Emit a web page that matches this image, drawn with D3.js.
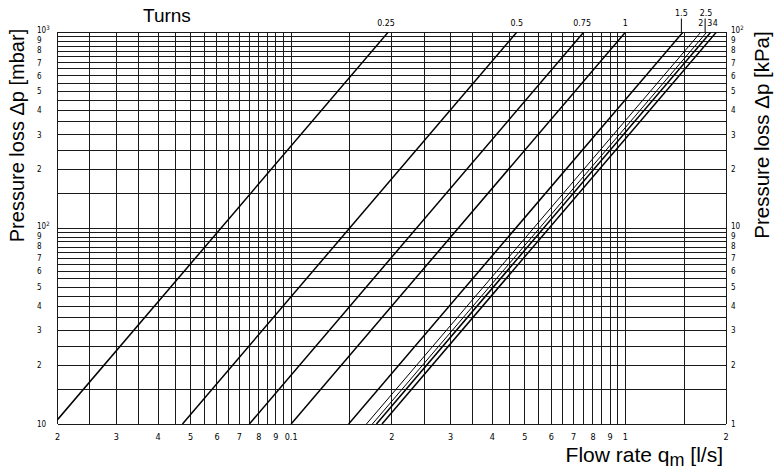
<!DOCTYPE html>
<html>
<head>
<meta charset="utf-8">
<script src="https://cdn.jsdelivr.net/npm/d3@7"></script>
<style>
  html, body { margin: 0; padding: 0; background: #fff; }
  svg { display: block; }
  .title { font-family: "Liberation Sans", Arial, sans-serif; fill: #000; }
  .tick { font-family: "DejaVu Sans Condensed", "DejaVu Sans", sans-serif; font-size: 9px; fill: #000; }
  .ytick { font-family: "DejaVu Sans Condensed", "DejaVu Sans", sans-serif; font-size: 8px; fill: #000; }
  .turn { font-family: "Liberation Sans Narrow", "DejaVu Sans Condensed", sans-serif; font-size: 8.8px; fill: #000; }
</style>
</head>
<body>
<svg id="chart" width="774" height="470"></svg>
<script>
// Valve setting (number of turns) for each characteristic line
const turns = ["0.25", "0.5", "0.75", "1", "1.5", "2", "2.5", "3", "4"];
// Flow rate [l/s] at 10 mbar and at 1000 mbar for each setting
const flowAt10mbar   = [0.0195, 0.0473, 0.075, 0.100, 0.1486, 0.168, 0.175, 0.180, 0.187];
const flowAt1000mbar = [0.195, 0.473, 0.75, 1.00, 1.486, 1.68, 1.75, 1.80, 1.87];

// Axis ticks
const xTickValues = [0.02, 0.03, 0.04, 0.05, 0.06, 0.07, 0.08, 0.09, 0.1, 0.2, 0.3, 0.4, 0.5, 0.6, 0.7, 0.8, 0.9, 1, 2];
const xTickLabels = ["2", "3", "4", "5", "6", "7", "8", "9", "0.1", "2", "3", "4", "5", "6", "7", "8", "9", "1", "2"];
const mbarTickValues = [1000, 900, 800, 700, 600, 500, 400, 300, 200, 100, 90, 80, 70, 60, 50, 40, 30, 20, 10];
const mbarTickLabels = ["10^3", "9", "8", "7", "6", "5", "4", "3", "2", "10^2", "9", "8", "7", "6", "5", "4", "3", "2", "10"];
const kpaTickValues = [100, 90, 80, 70, 60, 50, 40, 30, 20, 10, 9, 8, 7, 6, 5, 4, 3, 2, 1];
const kpaTickLabels = ["10^2", "9", "8", "7", "6", "5", "4", "3", "2", "10", "9", "8", "7", "6", "5", "4", "3", "2", "1"];
// Grid line mantissas within each decade
const gridSteps = [1, 1.5, 2, 2.5, 3, 3.5, 4, 4.5, 5, 5.5, 6, 6.5, 7, 7.5, 8, 8.5, 9, 9.5];

const svg = d3.select("#chart");
const plotLeft = 57.5, plotRight = 726, plotTop = 32.3, plotBottom = 424;

const x = d3.scaleLog().domain([0.02, 2]).range([plotLeft, plotRight]);
const y = d3.scaleLog().domain([10, 1000]).range([plotBottom, plotTop]);
const yKpa = d3.scaleLog().domain([1, 100]).range([plotBottom, plotTop]);

// grid values generated from decade mantissas
function gridValues(lo, hi) {
  const out = [];
  for (let e = Math.floor(Math.log10(lo)); e <= Math.ceil(Math.log10(hi)); e++) {
    gridSteps.forEach(m => {
      const v = +(m * Math.pow(10, e)).toPrecision(6);
      if (v >= lo * 0.9999 && v <= hi * 1.0001) out.push(v);
    });
  }
  return out;
}

const grid = svg.append("g").attr("stroke", "#1a1a1a").attr("stroke-width", 1).attr("shape-rendering", "crispEdges");
grid.selectAll("line.v").data(gridValues(0.02, 2)).join("line")
  .attr("class", "v")
  .attr("x1", d => x(d)).attr("x2", d => x(d))
  .attr("y1", plotTop).attr("y2", plotBottom);
grid.selectAll("line.h").data(gridValues(10, 1000)).join("line")
  .attr("class", "h")
  .attr("x1", plotLeft).attr("x2", plotRight)
  .attr("y1", d => y(d)).attr("y2", d => y(d));

// characteristic lines, clipped to the plot area
svg.append("clipPath").attr("id", "plotClip").append("rect")
  .attr("x", plotLeft).attr("y", plotTop).attr("width", plotRight - plotLeft).attr("height", plotBottom - plotTop);

const thin = new Set(["2", "2.5"]);
const lines = svg.append("g").attr("clip-path", "url(#plotClip)");
lines.selectAll("line").data(turns).join("line")
  .attr("x1", (d, i) => x(flowAt10mbar[i])).attr("y1", y(10))
  .attr("x2", (d, i) => x(flowAt1000mbar[i])).attr("y2", y(1000))
  .attr("stroke", "#000")
  .attr("stroke-width", d => thin.has(d) ? 1 : 1.5);

// turn labels above the top edge; two sit higher with a leader line
const raised = new Set(["1.5", "2.5"]);
const labelShift = { "0.25": -2, "0.75": -1.5, "2.5": 1, "3": -1, "4": -1 };
const tl = svg.append("g");
turns.forEach((t, i) => {
  const cx = x(flowAt1000mbar[i]);
  const lx = cx + (labelShift[t] || 0);
  if (raised.has(t)) {
    tl.append("text").attr("class", "turn").attr("x", lx - 1.5).attr("y", 15.5)
      .attr("text-anchor", "middle").text(t);
    tl.append("line").attr("x1", cx - 1.5).attr("x2", cx - 1.5).attr("y1", 18.5).attr("y2", plotTop)
      .attr("stroke", "#000").attr("stroke-width", 1);
  } else {
    tl.append("text").attr("class", "turn").attr("x", lx).attr("y", 26)
      .attr("text-anchor", "middle").text(t);
  }
});

// x axis labels
svg.append("g").selectAll("text").data(xTickValues).join("text")
  .attr("class", "tick")
  .attr("x", d => x(d)).attr("y", 439.5)
  .attr("text-anchor", "middle")
  .text((d, i) => xTickLabels[i]);

// y labels with optional superscript exponent; labels around each power of
// ten are spread slightly apart where the grid lines crowd together
function powerLabel(sel, label) {
  const parts = label.split("^");
  sel.append("tspan").text(parts[0]);
  if (parts.length > 1) {
    sel.append("tspan").attr("dy", -3.2).attr("font-size", "6px").text(parts[1]);
  }
}
const nudge = { "9": -1, "8": -1.2 };
function yLabels(g, scale, values, labels, xPos) {
  const lowest = scale.domain()[0];
  values.forEach((v, i) => {
    const isDecade = Math.abs(Math.log10(v) - Math.round(Math.log10(v))) < 1e-9;
    const shift = isDecade ? (v > lowest ? -2 : 0) : (nudge[labels[i]] || 0);
    const t = g.append("text").attr("class", "ytick")
      .attr("x", xPos).attr("y", scale(v) + 2.9 + shift);
    powerLabel(t, labels[i]);
  });
}
yLabels(svg.append("g"), y, mbarTickValues, mbarTickLabels, 37);
yLabels(svg.append("g"), yKpa, kpaTickValues, kpaTickLabels, 731);

// titles
svg.append("text").attr("class", "title").attr("x", 143).attr("y", 22)
  .attr("font-size", "19px").text("Turns");

svg.append("text").attr("class", "title")
  .attr("transform", "translate(23.5,135.5) rotate(-90)")
  .attr("text-anchor", "middle").attr("font-size", "20px")
  .text("Pressure loss Δp [mbar]");

svg.append("text").attr("class", "title")
  .attr("transform", "translate(769,135) rotate(-90)")
  .attr("text-anchor", "middle").attr("font-size", "20.5px")
  .text("Pressure loss Δp [kPa]");

const xt = svg.append("text").attr("class", "title")
  .attr("x", 723).attr("y", 461.5).attr("text-anchor", "end").attr("font-size", "21px");
xt.append("tspan").text("Flow rate q");
xt.append("tspan").attr("dy", 4).attr("font-size", "18px").text("m");
xt.append("tspan").attr("dy", -4).text(" [l/s]");
</script>
</body>
</html>
